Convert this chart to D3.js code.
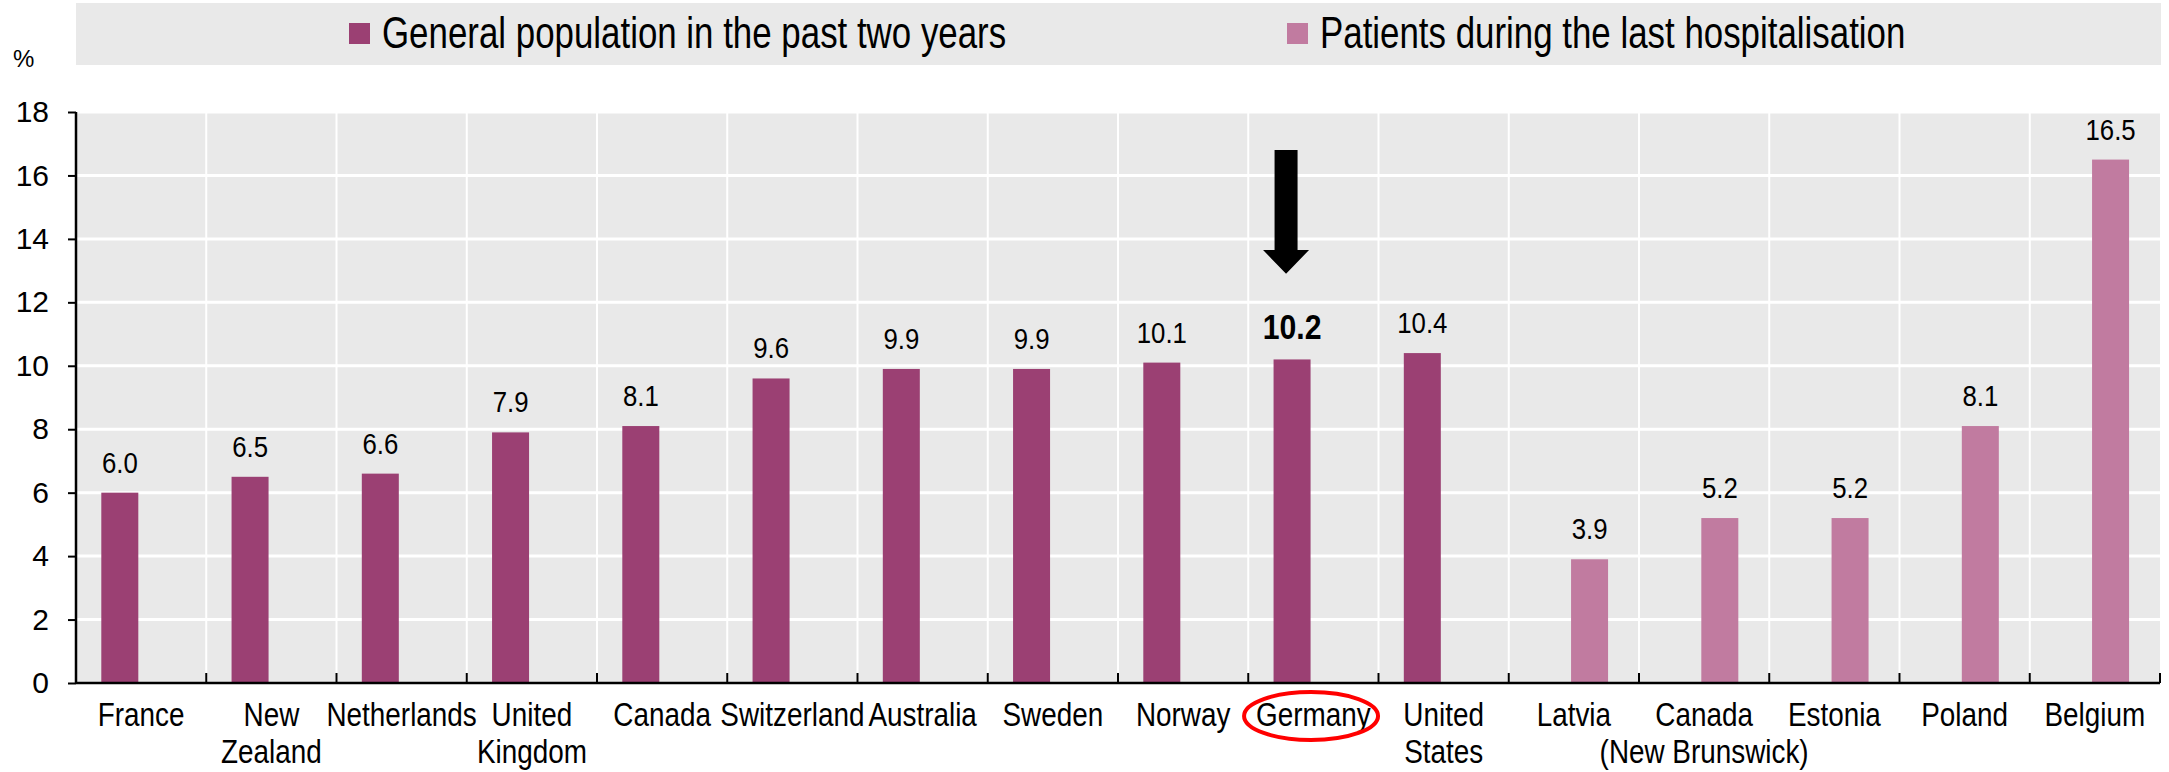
<!DOCTYPE html>
<html><head><meta charset="utf-8">
<script src="https://cdn.jsdelivr.net/npm/d3@7"></script>
<style>body{margin:0;background:#fff} svg{display:block}</style>
</head><body><svg id="c" width="2169" height="772"></svg>
<script>
const categories = ["France","New Zealand","Netherlands","United Kingdom","Canada","Switzerland","Australia","Sweden","Norway","Germany","United States","Latvia","Canada (New Brunswick)","Estonia","Poland","Belgium"];
const categoryLines = [["France"],["New","Zealand"],["Netherlands"],["United","Kingdom"],["Canada"],["Switzerland"],["Australia"],["Sweden"],["Norway"],["Germany"],["United","States"],["Latvia"],["Canada","(New Brunswick)"],["Estonia"],["Poland"],["Belgium"]];
const generalPopulation = [6.0,6.5,6.6,7.9,8.1,9.6,9.9,9.9,10.1,10.2,10.4,null,null,null,null,null];
const hospitalPatients = [null,null,null,null,null,null,null,null,null,null,null,3.9,5.2,5.2,8.1,16.5];
const seriesNames = ["General population in the past two years","Patients during the last hospitalisation"];
const seriesColors = ["#9B4073","#C17BA0"];
const yTicks = [0,2,4,6,8,10,12,14,16,18];
const highlight = "Germany";

const REG = "'Liberation Sans',Arial,sans-serif";

const svg = d3.select("#c");
const L = 76, R = 2160, T = 112, B = 683;

// condensed text helper (Arial Narrow look): group scaled horizontally
function narrowText(parent, x, y, size, anchor, weight, sx) {
  const g = parent.append("g").attr("transform", `translate(${x},${y}) scale(${sx || 0.82},1)`);
  return g.append("text").attr("x", 0).attr("y", 0).attr("text-anchor", anchor || "start")
    .attr("font-family", REG).attr("font-size", size).attr("font-weight", weight || "normal").attr("fill", "#000");
}

const x0 = d3.scaleBand().domain(categories).range([L, R]).padding(0);
const x1 = d3.scaleBand().domain([0,1]).range([0, x0.bandwidth()]).paddingInner(0).paddingOuter(0.76).align(0.45);
const y = d3.scaleLinear().domain([0,18]).range([B, T]);

// legend
svg.append("rect").attr("x", L).attr("y", 3).attr("width", R + 1 - L).attr("height", 62).attr("fill", "#E9E9E9");
const legX = [349, 1287];
seriesNames.forEach((n, i) => {
  svg.append("rect").attr("x", legX[i]).attr("y", 23).attr("width", 21).attr("height", 21).attr("fill", seriesColors[i]);
  narrowText(svg, legX[i] + 33, 48, 45, "start", "normal", 0.775).text(n);
});
svg.append("text").attr("x", 13).attr("y", 67).attr("font-family", REG).attr("font-size", 24).text("%");

// plot background
svg.append("rect").attr("x", L).attr("y", T).attr("width", R - L).attr("height", B - T).attr("fill", "#E9E9E9");
// horizontal gridlines
svg.append("g").selectAll("line").data(yTicks.filter(d => d > 0)).join("line")
  .attr("x1", L).attr("x2", R).attr("y1", d => y(d)).attr("y2", d => y(d))
  .attr("stroke", "#fff").attr("stroke-width", 3);
// vertical gridlines
svg.append("g").selectAll("line").data(categories.slice(1)).join("line")
  .attr("x1", d => x0(d)).attr("x2", d => x0(d)).attr("y1", T).attr("y2", B)
  .attr("stroke", "#fff").attr("stroke-width", 2);

// bars
const series = [generalPopulation, hospitalPatients];
series.forEach((vals, si) => {
  const data = categories.map((c, i) => ({c, v: vals[i]})).filter(d => d.v != null);
  svg.append("g").selectAll("rect").data(data).join("rect")
    .attr("x", d => x0(d.c) + x1(si)).attr("width", x1.bandwidth())
    .attr("y", d => y(d.v)).attr("height", d => y(0) - y(d.v))
    .attr("fill", seriesColors[si]);
  const lg = svg.append("g");
  data.forEach(d => {
    const hl = d.c === highlight;
    narrowText(lg, x0(d.c) + x1(si) + x1.bandwidth() / 2, y(d.v) - 20, hl ? 36 : 30, "middle", hl ? "bold" : "normal", hl ? 0.84 : 0.86)
      .text(d.v.toFixed(1));
  });
});

// y axis
const yAxis = svg.append("g").attr("transform", `translate(${L},0)`)
  .call(d3.axisLeft(y).tickValues(yTicks).tickSize(8).tickPadding(19).tickFormat(d3.format("d")));
yAxis.select(".domain").attr("stroke", "#000").attr("stroke-width", 2.5).attr("d", `M0,${T}V${B}`);
yAxis.selectAll(".tick line").attr("stroke", "#000").attr("stroke-width", 2);
yAxis.selectAll("text").attr("font-family", REG).attr("font-size", 30).attr("fill", "#000");

// x axis
const xAxis = svg.append("g").attr("transform", `translate(0,${B})`)
  .call(d3.axisBottom(x0).tickSize(0).tickFormat(""));
xAxis.select(".domain").attr("stroke", "#000").attr("stroke-width", 2.5).attr("d", `M${L},0H${R}`);
const bounds = categories.map(c => x0(c)).concat([R]).slice(1);
svg.append("g").selectAll("line").data(bounds).join("line")
  .attr("x1", d => d).attr("x2", d => d).attr("y1", B).attr("y2", B - 10)
  .attr("stroke", "#000").attr("stroke-width", 2);
xAxis.selectAll(".tick").each(function(d, i) {
  const t = narrowText(d3.select(this), 0, 0, 34, "middle");
  categoryLines[i].forEach((ln, j) => t.append("tspan").attr("x", 0).attr("y", 43 + j * 37).text(ln));
});

// highlight annotation
const hx = x0(highlight) + x1(0) + x1.bandwidth() / 2;
svg.append("ellipse").attr("cx", hx + 19).attr("cy", 716).attr("rx", 67).attr("ry", 24)
  .attr("fill", "none").attr("stroke", "#FF0000").attr("stroke-width", 4);
const ax = hx - 6, aTop = y(16.8), aBase = y(13.65), aTip = y(12.9);
svg.append("path")
  .attr("d", `M${ax-11.5},${aTop}H${ax+11.5}V${aBase}H${ax+23}L${ax},${aTip}L${ax-23},${aBase}H${ax-11.5}Z`)
  .attr("fill", "#000");
</script></body></html>
